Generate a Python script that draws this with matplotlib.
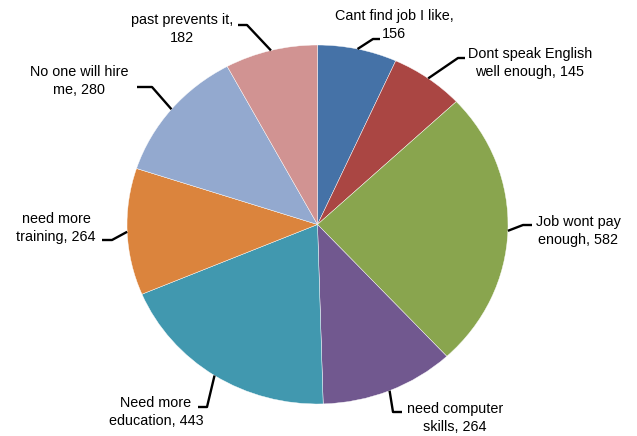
import numpy as np
import matplotlib
matplotlib.use("Agg")
import matplotlib.pyplot as plt

# Reasons for not working, survey counts
categories = ["Cant find job I like", "Dont speak English\nwell enough", "Job wont pay\nenough",
              "need computer\nskills", "Need more\neducation", "need more\ntraining",
              "No one will hire\nme", "past prevents it"]
counts = [156, 145, 582, 264, 443, 264, 280, 182]
label_text = ["Cant find job I like,\n156", "Dont speak English\nwell enough, 145",
              "Job wont pay\nenough, 582", "need computer\nskills, 264",
              "Need more\neducation, 443", "need more\ntraining, 264",
              "No one will hire\nme, 280", "past prevents it,\n182"]
colors = ["#4572A7", "#AA4643", "#89A54E", "#71588F", "#4198AF", "#DB843D", "#93A9CF", "#D19392"]

W, H = 637, 436
fig = plt.figure(figsize=(W / 100, H / 100), dpi=100)

# pie area in pixels (slightly wider than tall)
left, right, top, bottom = 127, 508, 45, 404
ax = fig.add_axes([left / W, 1 - bottom / H, (right - left) / W, (bottom - top) / H])
cx, cy = (left + right) / 2, (top + bottom) / 2
rx, ry = (right - left) / 2, (bottom - top) / 2


def px2data(px, py):
    return (px - cx) / rx, (cy - py) / ry


wedges, _ = ax.pie(counts, colors=colors, startangle=90, counterclock=False,
                   wedgeprops=dict(edgecolor="white", linewidth=0.3))
ax.set_aspect("auto")
ax.set_xlim(-1, 1)
ax.set_ylim(-1, 1)
ax.axis("off")

# text centre, leader elbow, leader end (pixels)
layout = [
    ((394, 25), (373, 39), (380, 39)),
    ((530, 63), (458, 58), (465, 58)),
    ((578, 231), (523, 225), (532, 225)),
    ((455, 418), (393, 412), (402, 412)),
    ((156, 412), (207, 407), (198, 407)),
    ((56, 228), (112, 240), (102, 240)),
    ((79, 81), (152, 87), (137, 87)),
    ((182, 29), (247, 25), (238, 25)),
]

for w, txt, (tpos, elbow, end) in zip(wedges, label_text, layout):
    mid = np.deg2rad((w.theta1 + w.theta2) / 2)
    sx, sy = np.cos(mid), np.sin(mid)
    ex, ey = px2data(*elbow)
    nx, ny = px2data(*end)
    ax.plot([sx, ex, nx], [sy, ey, ny], color="black", lw=1.7, clip_on=False,
            solid_capstyle="butt")
    tx, ty = px2data(*tpos)
    ax.text(tx, ty, txt, ha="center", va="center", fontsize=10.4, linespacing=1.45,
            family="Liberation Sans", color="black", clip_on=False)

fig.savefig("out.png", dpi=100)
